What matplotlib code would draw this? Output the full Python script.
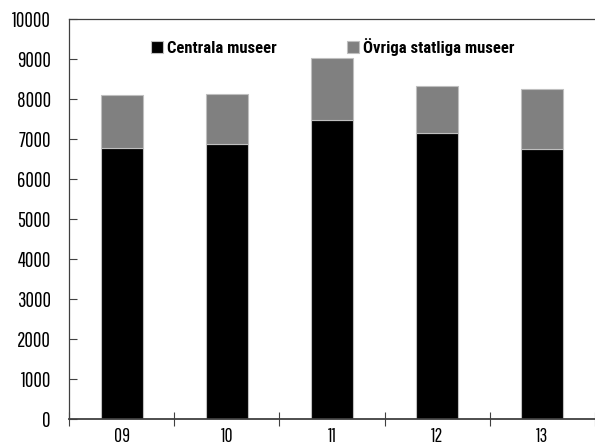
import matplotlib
matplotlib.use("Agg")
import matplotlib.pyplot as plt
import numpy as np

years = ["09", "10", "11", "12", "13"]
centrala = [6780, 6880, 7480, 7160, 6760]
ovriga = [1330, 1250, 1550, 1160, 1490]
yticks = [0, 1000, 2000, 3000, 4000, 5000, 6000, 7000, 8000, 9000, 10000]

TICKFAM = ['Pathway Gothic One', 'Roboto Condensed', 'DejaVu Sans']
LEGFAM = ['Roboto Condensed', 'DejaVu Sans']
plt.rcParams['font.family'] = TICKFAM

fig = plt.figure(figsize=(5.95, 4.48), dpi=100)
ax = fig.add_axes([69/595, 1 - 419/448, (595 - 69)/595, 400/448])

x = np.arange(len(years))
ax.bar(x, centrala, width=0.4, color="black", edgecolor="#bfbfbf", linewidth=0.8, label="Centrala museer")
ax.bar(x, ovriga, width=0.4, bottom=centrala, color="#808080", edgecolor="#bfbfbf", linewidth=0.8, label="Övriga statliga museer")

ax.set_xlim(-0.5, len(years) - 0.5)
ax.set_ylim(0, 10000)
ax.set_yticks(yticks)
ax.set_yticklabels([str(v) for v in yticks], fontsize=15)
ax.set_xticks(x)
ax.set_xticklabels(years, fontsize=14)
ax.set_xticks(np.arange(-0.5, len(years), 1.0), minor=True)
ax.tick_params(axis='x', which='major', length=0, pad=6)
ax.tick_params(axis='x', which='minor', direction='inout', length=10, width=0.8, color="#404040")
ax.tick_params(axis='y', direction='in', length=6, width=0.8, color="#404040", pad=13)

for s in ['left', 'top', 'bottom']:
    ax.spines[s].set_color("#404040")
ax.spines['left'].set_linewidth(0.9)
ax.spines['top'].set_linewidth(0.9)
ax.spines['bottom'].set_linewidth(1.3)
ax.spines['right'].set_visible(False)

leg = fig.legend(*ax.get_legend_handles_labels(), loc='center left',
                 bbox_to_anchor=(151/595, 1 - 47/448), bbox_transform=fig.transFigure,
                 ncol=2, frameon=False, borderpad=0, borderaxespad=0,
                 prop={'family': LEGFAM, 'weight': 'bold', 'size': 12},
                 handlelength=0.72, handleheight=0.72, handletextpad=0.25, columnspacing=4.2)

fig.savefig("out.png", dpi=100)
